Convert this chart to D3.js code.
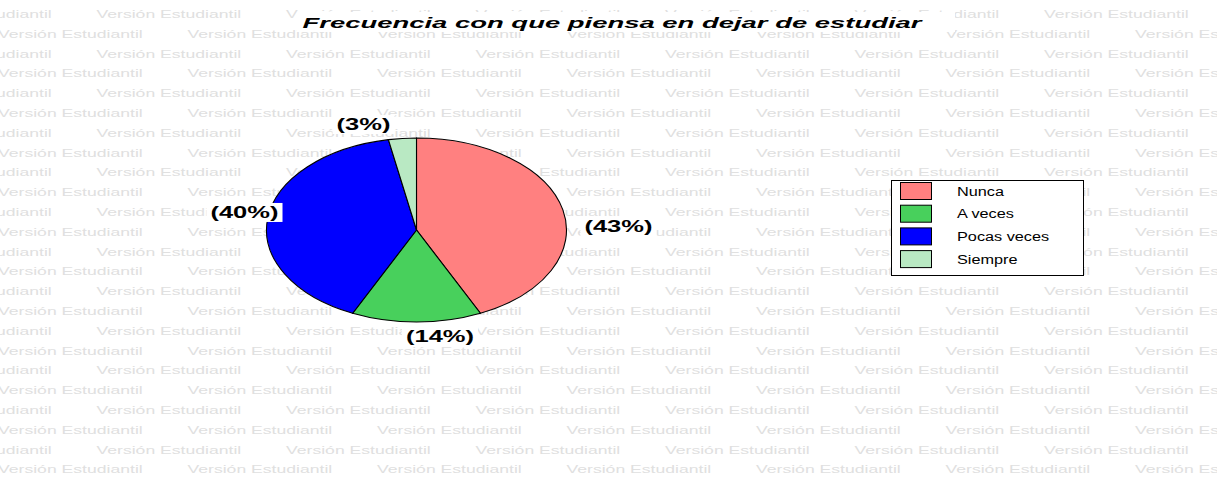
<!DOCTYPE html>
<html>
<head>
<meta charset="utf-8">
<script src="https://cdn.jsdelivr.net/npm/d3@7"></script>
<style>
  html, body { margin: 0; padding: 0; background: #fff; }
  svg { display: block; font-family: "Liberation Sans", Arial, sans-serif; }
</style>
</head>
<body>
<div id="chart"></div>
<script>
const title = "Frecuencia con que piensa en dejar de estudiar";
const categories = ["Nunca", "A veces", "Pocas veces", "Siempre"];
const percents = [43, 14, 40, 3];
const colors = ["#ff8080", "#48d05c", "#0000ff", "#b9e9c3"];
const watermark = "Versión Estudiantil";

const W = 1217, H = 477;
const cx = 416.5, cy = 230, rx = 150, ry = 92;
// label nudges from the rim point at mid angle (the original places them by hand)
const nudge = [[55.6, 16.1], [23.5, 14], [-23.2, -6.5], [-38.9, -14.4]];

const svg = d3.select("#chart").append("svg")
  .attr("width", W)
  .attr("height", H);

// stretch text horizontally like the original export
function stretch(sel, k) {
  sel.each(function () {
    const len = this.getComputedTextLength();
    d3.select(this).attr("textLength", len * k).attr("lengthAdjust", "spacingAndGlyphs");
  });
}

// watermark grid
const wm = svg.append("g").attr("fill", "#e0e0e0").attr("font-size", "11.5px");
d3.range(24).forEach(r => {
  const x0 = r % 2 === 0 ? 96.5 - 189.5 : -2;
  d3.range(8).forEach(c => {
    wm.append("text")
      .attr("transform", `translate(${x0 + c * 189.5},${18 + r * 19.8}) scale(1.53,1)`)
      .text(watermark);
  });
});

// title
svg.append("rect").attr("x", 297).attr("y", 12).attr("width", 658).attr("height", 20).attr("fill", "#fff");
svg.append("text")
  .attr("x", 302.5)
  .attr("y", 27.5)
  .attr("font-size", "15.5px")
  .attr("font-weight", "bold")
  .attr("font-style", "italic")
  .attr("fill", "#000")
  .attr("textLength", 619)
  .attr("lengthAdjust", "spacingAndGlyphs")
  .text(title);

// pie
const data = categories.map((c, i) => ({ name: c, value: percents[i], color: colors[i] }));
const pie = d3.pie().sort(null).value(d => d.value);
const arc = d3.arc().innerRadius(0).outerRadius(ry);
const arcs = pie(data);

svg.append("g")
  .attr("transform", `translate(${cx},${cy}) scale(${rx / ry},1)`)
  .selectAll("path")
  .data(arcs)
  .enter()
  .append("path")
  .attr("d", arc)
  .attr("fill", d => d.data.color)
  .attr("stroke", "#000")
  .attr("stroke-width", 1.1)
  .attr("vector-effect", "non-scaling-stroke");

// labels
const lab = svg.append("g");
arcs.forEach((d, i) => {
  const a = (d.startAngle + d.endAngle) / 2;
  const px = cx + rx * Math.sin(a) + nudge[i][0];
  const py = cy - ry * Math.cos(a) + nudge[i][1];
  const g = lab.append("g");
  const t = g.append("text")
    .attr("x", px)
    .attr("y", py + 6)
    .attr("text-anchor", "middle")
    .attr("font-size", "17px")
    .attr("font-weight", "bold")
    .attr("fill", "#000")
    .text(`(${d.data.value}%)`);
  stretch(t, 1.5);
  const b = t.node().getBBox();
  g.insert("rect", "text")
    .attr("x", b.x - 4)
    .attr("y", b.y)
    .attr("width", b.width + 8)
    .attr("height", b.height)
    .attr("fill", "#fff");
});

// legend
const leg = svg.append("g").attr("transform", "translate(891.5,180.5)");
leg.append("rect")
  .attr("width", 192)
  .attr("height", 95)
  .attr("fill", "#fff")
  .attr("stroke", "#000")
  .attr("stroke-width", 1);
const item = leg.selectAll(".item")
  .data(data)
  .enter()
  .append("g")
  .attr("class", "item")
  .attr("transform", (d, i) => `translate(0,${2 + i * 22.7})`);
item.append("rect")
  .attr("x", 9)
  .attr("width", 31)
  .attr("height", 17)
  .attr("fill", d => d.color)
  .attr("stroke", "#000")
  .attr("stroke-width", 1);
const lt = item.append("text")
  .attr("x", 65.5)
  .attr("y", 13)
  .attr("font-size", "12.5px")
  .attr("fill", "#000")
  .text(d => d.name);
stretch(lt, 1.3);
</script>
</body>
</html>
